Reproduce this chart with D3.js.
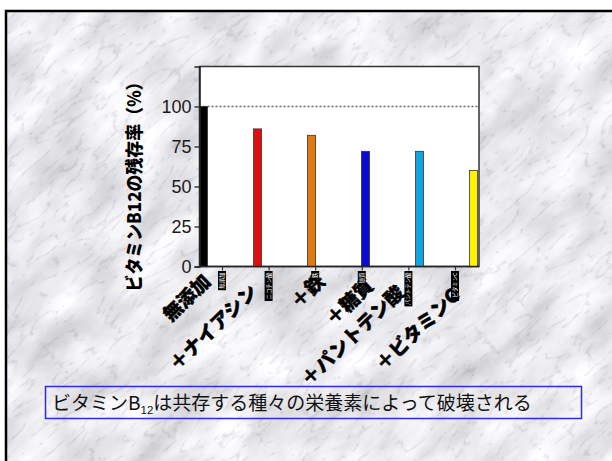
<!DOCTYPE html>
<html>
<head>
<meta charset="utf-8">
<script src="https://cdn.jsdelivr.net/npm/d3@7"></script>
<style>
  html, body { margin: 0; padding: 0; background: #fff; overflow: hidden; }
  svg { display: block; }
</style>
</head>
<body>
<svg id="chart" width="612" height="461"></svg>
<script>
// Vitamin B12 retention after mixing with other nutrients
const categories = ["無添加", "＋ナイアシン", "＋鉄", "＋糖質", "＋パントテン酸", "＋ビタミンC"];
const tickTags   = ["無添加", "ニコチン酸", "鉄", "糖質", "パントテン酸", "ビタミンC"];
const retention  = [100, 86, 82, 72, 72, 60];
const barColors  = ["#000000", "#e01010", "#e07a10", "#0a0ad8", "#12a6e0", "#fff200"];
const yTicks     = [0, 25, 50, 75, 100];
const referenceLevel = 100;
const yTitle = "ビタミンB12の残存率（%）";
const captionParts = [
  { text: "ビタミンB", sub: false },
  { text: "12", sub: true },
  { text: "は共存する種々の栄養素によって破壊される", sub: false }
];

// label placement around each tick (end of rotated text)
const labelDx = [-10, -10, 11, 13, -3, 6];
const labelY  = [283, 293, 283, 287, 294, 297];

const svg = d3.select("#chart");
const W = 612, H = 461;

// ---- marble backdrop ----
const defs = svg.append("defs");
const f = defs.append("filter").attr("id", "marble")
  .attr("filterUnits", "userSpaceOnUse")
  .attr("x", -300).attr("y", -300).attr("width", 1300).attr("height", 1100);
f.append("feTurbulence").attr("type", "fractalNoise")
  .attr("baseFrequency", "0.014 0.03").attr("numOctaves", 5).attr("seed", 4).attr("result", "base");
f.append("feColorMatrix").attr("in", "base").attr("type", "matrix")
  .attr("values", "0.6 0 0 0 0.53  0.6 0 0 0 0.53  0.6 0 0 0 0.56  0 0 0 0 1")
  .attr("result", "baseGray");
f.append("feTurbulence").attr("type", "turbulence")
  .attr("baseFrequency", "0.03 0.08").attr("numOctaves", 4).attr("seed", 11).attr("result", "vein");
f.append("feColorMatrix").attr("in", "vein").attr("type", "matrix")
  .attr("values", "1.4 0 0 0 0.72  1.4 0 0 0 0.72  1.4 0 0 0 0.73  0 0 0 0 1")
  .attr("result", "veinGray");
f.append("feBlend").attr("in", "baseGray").attr("in2", "veinGray").attr("mode", "multiply");

defs.append("clipPath").attr("id", "frameClip")
  .append("rect").attr("x", 6).attr("y", 11).attr("width", W).attr("height", H);

svg.append("rect").attr("width", W).attr("height", H).attr("fill", "#fff");
svg.append("g").attr("clip-path", "url(#frameClip)")
  .append("g").attr("transform", "rotate(-42 306 230)")
  .append("rect").attr("x", -300).attr("y", -300).attr("width", 1300).attr("height", 1100)
  .attr("fill", "#ddd").attr("filter", "url(#marble)");

// frame border
svg.append("rect").attr("x", 6).attr("y", 11).attr("width", W).attr("height", H)
  .attr("fill", "none").attr("stroke", "#000").attr("stroke-width", 2.5);

// ---- chart ----
const plot = { left: 199.5, right: 479, top: 66.5, bottom: 266.5 };
const y = d3.scaleLinear().domain([0, 125]).range([plot.bottom, plot.top]);
const xBar = d3.scalePoint().domain(categories).range([203.5, 473.5]);
const xTick = d3.scalePoint().domain(categories).range([222, 455]);
const barW = 8;

svg.append("rect")
  .attr("x", plot.left).attr("y", plot.top)
  .attr("width", plot.right - plot.left).attr("height", plot.bottom - plot.top)
  .attr("fill", "#fff").attr("stroke", "#333").attr("stroke-width", 1.5);

// reference line
svg.append("line")
  .attr("x1", plot.left).attr("x2", plot.right)
  .attr("y1", y(referenceLevel)).attr("y2", y(referenceLevel))
  .attr("stroke", "#666").attr("stroke-width", 1.3).attr("stroke-dasharray", "2,2");

// bars
svg.append("g").selectAll("rect").data(retention).join("rect")
  .attr("x", (d, i) => xBar(categories[i]) - barW / 2)
  .attr("y", d => y(d))
  .attr("width", barW)
  .attr("height", d => y(0) - y(d))
  .attr("fill", (d, i) => barColors[i])
  .attr("stroke", "#333").attr("stroke-width", 0.8);

// y axis
const yAxis = svg.append("g").attr("transform", `translate(${plot.left},0)`)
  .call(d3.axisLeft(y).tickValues(yTicks).tickSize(5).tickPadding(3));
yAxis.select(".domain").attr("stroke", "#222").attr("stroke-width", 1.5);
yAxis.selectAll(".tick line").attr("stroke", "#222").attr("stroke-width", 1.3);
yAxis.selectAll(".tick text")
  .attr("font-family", "'Liberation Sans', Arial, sans-serif")
  .attr("font-size", 18).attr("fill", "#1a1a1a");

// x axis
const xAxis = svg.append("g").attr("transform", `translate(0,${plot.bottom})`)
  .call(d3.axisBottom(xTick).tickSize(4).tickFormat(""));
xAxis.select(".domain").remove();
xAxis.selectAll(".tick line").attr("stroke", "#333").attr("stroke-width", 1.2);
svg.append("line").attr("x1", plot.left).attr("x2", plot.right)
  .attr("y1", plot.bottom).attr("y2", plot.bottom)
  .attr("stroke", "#222").attr("stroke-width", 1.5);

// category labels
svg.append("g").selectAll("text").data(categories).join("text")
  .attr("transform", (d, i) => `translate(${xTick(d) + labelDx[i]},${labelY[i]}) rotate(-44)`)
  .attr("text-anchor", "end")
  .attr("font-family", "'Noto Sans CJK JP', sans-serif")
  .attr("font-weight", 900).attr("font-size", 19).attr("fill", "#000")
  .attr("stroke", "#000").attr("stroke-width", 0.4)
  .text(d => d);

// small tick tags
const tagChar = 5.4;
const tags = svg.append("g").selectAll("g").data(tickTags).join("g")
  .attr("transform", (d, i) => `translate(${xTick(categories[i])},${plot.bottom + 4.5})`);
tags.append("rect")
  .attr("x", -4).attr("y", 0).attr("width", 8)
  .attr("height", d => d.length * tagChar + 3)
  .attr("fill", "#000");
tags.append("text")
  .attr("transform", "translate(2,1.5) rotate(-90)")
  .attr("text-anchor", "end")
  .attr("font-family", "'Noto Sans CJK JP', sans-serif")
  .attr("font-size", 5.4).attr("fill", "#fff")
  .text(d => d);

// y title
svg.append("text")
  .attr("transform", "translate(141,182.5) rotate(-90)")
  .attr("text-anchor", "middle")
  .attr("font-family", "'Noto Sans CJK JP', sans-serif")
  .attr("font-weight", 900).attr("font-size", 18)
  .attr("textLength", 218).attr("lengthAdjust", "spacingAndGlyphs")
  .attr("fill", "#000")
  .text(yTitle);

// caption box
svg.append("rect")
  .attr("x", 45.5).attr("y", 386.5).attr("width", 536).attr("height", 32)
  .attr("fill", "none").attr("stroke", "#2a2af0").attr("stroke-width", 1.5);
const cap = svg.append("text")
  .attr("x", 52).attr("y", 410)
  .attr("font-family", "'Noto Sans CJK JP', sans-serif")
  .attr("font-size", 19).attr("fill", "#111");
cap.selectAll("tspan").data(captionParts).join("tspan")
  .attr("font-size", d => d.sub ? 11.5 : 19)
  .attr("dy", (d, i) => d.sub ? 4 : (i > 0 && captionParts[i - 1].sub ? -4 : 0))
  .attr("font-family", d => d.sub ? "'Liberation Sans', Arial, sans-serif" : null)
  .text(d => d.text);
</script>
</body>
</html>
